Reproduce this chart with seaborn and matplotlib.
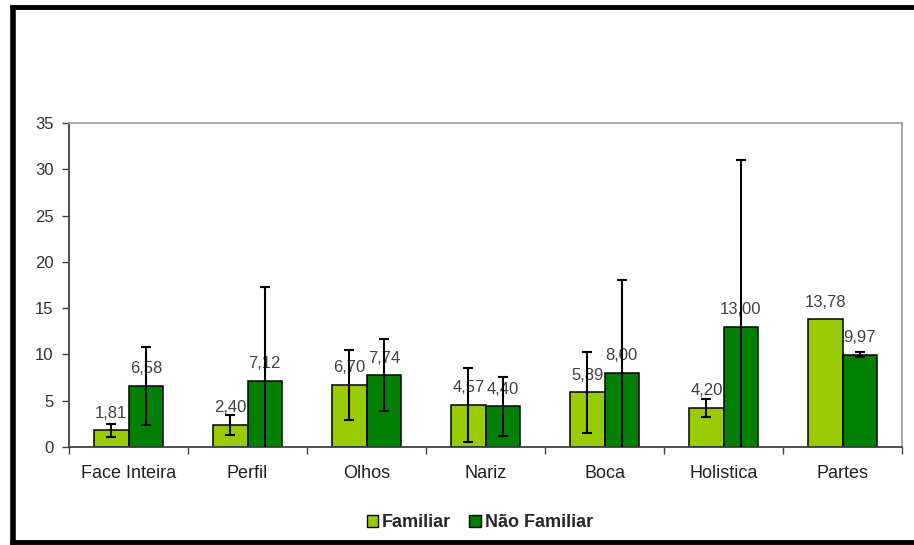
import numpy as np
import pandas as pd
import matplotlib
matplotlib.use("Agg")
import matplotlib.pyplot as plt
from matplotlib.lines import Line2D
import seaborn as sns

categorias = ["Face Inteira", "Perfil", "Olhos", "Nariz", "Boca", "Holistica", "Partes"]
familiar = [1.81, 2.40, 6.70, 4.57, 5.89, 4.20, 13.78]
nao_familiar = [6.58, 7.12, 7.74, 4.40, 8.00, 13.00, 9.97]
erro_familiar = [0.70, 1.05, 3.80, 4.00, 4.40, 1.00, np.nan]
erro_nao_familiar = [4.20, 10.20, 3.90, 3.20, 10.00, 18.00, 0.25]
grupos = ["Familiar", "Não Familiar"]
cores = ["#99CC00", "#008000"]

df = pd.DataFrame({
    "categoria": categorias * 2,
    "valor": familiar + nao_familiar,
    "grupo": [grupos[0]] * len(categorias) + [grupos[1]] * len(categorias),
})

sns.set_style("white")
plt.rcParams["font.family"] = ["Liberation Sans", "DejaVu Sans"]

fig = plt.figure(figsize=(9.14, 5.45), dpi=100)
ax = fig.add_axes([0.0755, 0.1798, 0.9115, 0.5945])

sns.barplot(data=df, x="categoria", y="valor", hue="grupo", palette=cores,
            order=categorias, hue_order=grupos, width=0.58, saturation=1,
            edgecolor="black", linewidth=1.1, errorbar=None, ax=ax)

# barras de erro e rótulos por série
for cont, erros, vals in zip(ax.containers, [erro_familiar, erro_nao_familiar],
                             [familiar, nao_familiar]):
    xs = [p.get_x() + p.get_width() / 2 for p in cont.patches]
    ax.errorbar(xs, vals, yerr=erros, fmt="none", ecolor="black",
                elinewidth=1.5, capsize=3.5, capthick=1.5, zorder=5)
    ax.bar_label(cont, labels=[f"{v:.2f}".replace(".", ",") for v in vals],
                 padding=7, fontsize=12, color="#404040")

ax.set_ylim(0, 35)
ax.set_yticks(range(0, 36, 5))
ax.set_xlim(-0.5, len(categorias) - 0.5)
ax.set_xlabel("")
ax.set_ylabel("")
ax.tick_params(axis="y", labelsize=12, length=5, width=1, color="#404040",
               labelcolor="#303030", direction="out", left=True, pad=6)
ax.tick_params(axis="x", which="major", length=0, labelsize=13, pad=13,
               labelcolor="#202020")
ax.set_xticks(np.arange(-0.5, len(categorias), 1), minor=True)
ax.tick_params(axis="x", which="minor", length=5, width=1, color="#404040",
               direction="out", bottom=True)

for lado in ["left", "bottom"]:
    ax.spines[lado].set_color("#404040")
    ax.spines[lado].set_linewidth(1.3)
for lado in ["top", "right"]:
    ax.spines[lado].set_visible(True)
    ax.spines[lado].set_color("#a0a0a0")
    ax.spines[lado].set_linewidth(1.3)

ax.legend(loc="upper center", bbox_to_anchor=(0.493, -0.185), ncol=2,
          frameon=False, prop={"weight": "bold", "size": 13},
          handlelength=0.65, handleheight=0.65, handletextpad=0.2,
          columnspacing=1.0, borderaxespad=0)
for h in ax.get_legend().legend_handles:
    h.set_edgecolor("black")
    h.set_linewidth(1)

# moldura preta da imagem
fig.add_artist(Line2D([0.011, 1.0], [0.988, 0.988], color="black", lw=3.5,
                      solid_capstyle="butt", transform=fig.transFigure))
fig.add_artist(Line2D([0.014, 0.014], [0.0, 0.991], color="black", lw=4,
                      solid_capstyle="butt", transform=fig.transFigure))
fig.add_artist(Line2D([0.011, 1.0], [0.005, 0.005], color="black", lw=3.5,
                      solid_capstyle="butt", transform=fig.transFigure))

fig.savefig("out.png", dpi=100)
